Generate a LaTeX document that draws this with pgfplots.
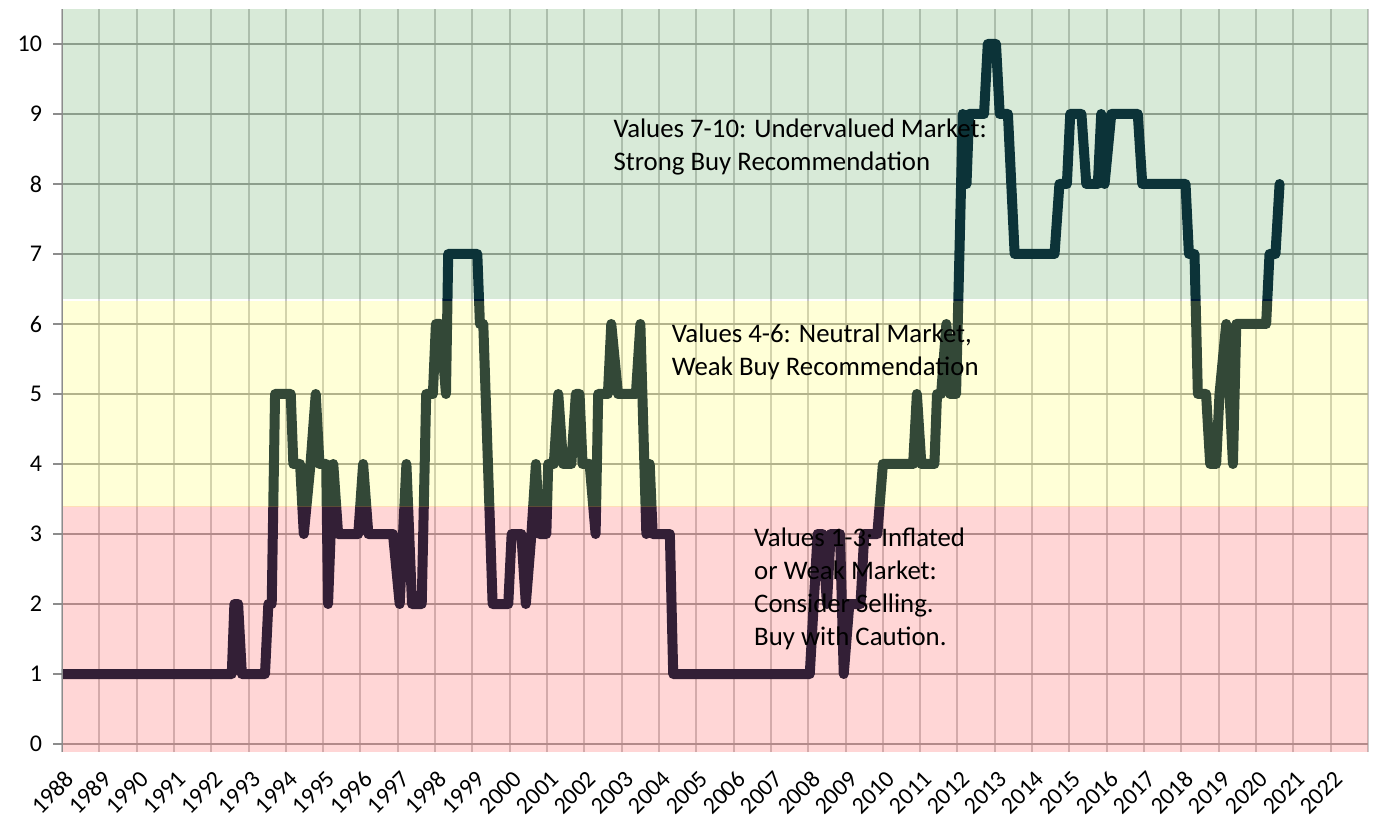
\documentclass[border=0pt]{standalone}
\usepackage{pgfplots}
\usepackage{pgfplotstable}
\pgfplotsset{compat=1.18}
\usepackage{fontspec}
\setmainfont{Carlito}
\definecolor{linecol}{RGB}{0,27,55}
\definecolor{bandred}{RGB}{255,50,50}
\definecolor{bandyel}{RGB}{255,255,55}
\definecolor{bandgrn}{RGB}{60,150,60}
\definecolor{hgrid}{RGB}{160,160,160}
\definecolor{vgrid}{RGB}{200,200,200}
\definecolor{axgray}{RGB}{140,140,140}

\pgfplotstableread{
year val
1988.00 1
1992.55 1
1992.62 2
1992.72 2
1992.82 1
1993.44 1
1993.53 2
1993.62 2
1993.71 5
1994.13 5
1994.20 4
1994.38 4
1994.48 3
1994.66 4
1994.80 5
1994.90 4
1995.08 4
1995.13 2
1995.27 4
1995.40 3
1995.94 3
1996.07 4
1996.21 3
1996.87 3
1997.05 2
1997.23 4
1997.38 2
1997.64 2
1997.76 5
1997.94 5
1998.02 6
1998.14 6
1998.29 5
1998.35 7
1999.13 7
1999.20 6
1999.29 6
1999.54 2
1999.96 2
2000.05 3
2000.31 3
2000.43 2
2000.58 3
2000.70 4
2000.80 3
2000.98 3
2001.03 4
2001.18 4
2001.30 5
2001.43 4
2001.65 4
2001.77 5
2001.87 5
2001.95 4
2002.14 4
2002.30 3
2002.37 5
2002.63 5
2002.72 6
2002.90 5
2003.38 5
2003.50 6
2003.66 3
2003.75 4
2003.83 3
2004.29 3
2004.38 1
2008.04 1
2008.25 3
2008.38 3
2008.50 2
2008.60 3
2008.85 3
2008.95 1
2009.10 2
2009.40 2
2009.50 3
2009.85 3
2010.00 4
2010.81 4
2010.91 5
2011.03 4
2011.38 4
2011.45 5
2011.56 5
2011.70 6
2011.80 5
2011.96 5
2012.14 9
2012.24 8
2012.31 9
2012.71 9
2012.81 10
2013.03 10
2013.13 9
2013.35 9
2013.53 7
2014.60 7
2014.73 8
2014.93 8
2015.02 9
2015.32 9
2015.45 8
2015.76 8
2015.85 9
2015.94 8
2016.12 9
2016.83 9
2016.95 8
2018.11 8
2018.20 7
2018.35 7
2018.44 5
2018.66 5
2018.77 4
2018.93 4
2019.02 5
2019.20 6
2019.38 4
2019.47 6
2020.27 6
2020.36 7
2020.52 7
2020.63 8
}\datatable

\begin{document}
\begin{tikzpicture}
\begin{axis}[name=ax, scale only axis, width=653pt, height=371.5pt,
  xmin=1988, xmax=2023, ymin=-0.1143, ymax=10.5,
  axis line style={draw=none},
  xtick={1988,...,2023},
  xticklabels={1988,1989,1990,1991,1992,1993,1994,1995,1996,1997,1998,1999,2000,2001,2002,2003,2004,2005,2006,2007,2008,2009,2010,2011,2012,2013,2014,2015,2016,2017,2018,2019,2020,2021,2022,{}},
  ytick={0,...,10},
  tick align=outside, ytick pos=left, xtick pos=bottom,
  major tick length=4.5pt,
  xtick style={draw=none},
  ytick style={draw=axgray, line width=1pt},
  xticklabel style={xshift=4pt, yshift=-7pt, rotate=45, anchor=east, inner sep=0pt, font=\fontsize{12}{14}\selectfont, text=black},
  yticklabel style={xshift=-2pt, font=\fontsize{12}{14}\selectfont, text=black},
  /pgf/number format/assume math mode=true,
  xmajorgrids, ymajorgrids,
  x grid style={vgrid, line width=1pt},
  y grid style={hgrid, line width=1.2pt},
  clip=true,
]
\addplot[linecol, line width=5pt, line join=round, line cap=round] table[x=year, y=val] {\datatable};
\fill[bandred, fill opacity=0.2] (axis cs:1988,-0.1143) rectangle (axis cs:2023,3.395);
\fill[bandyel, fill opacity=0.2] (axis cs:1988,3.385) rectangle (axis cs:2023,6.335);
\fill[bandgrn, fill opacity=0.2] (axis cs:1988,6.355) rectangle (axis cs:2023,10.5);
\draw[axgray, line width=1pt] (rel axis cs:0,0) -- (rel axis cs:0,1);
\node[anchor=north west, align=left, inner sep=0pt, font=\fontsize{13.4}{16.5}\selectfont] at (axis cs:2002.77,8.93) {Values 7-10: Undervalued Market:\\Strong Buy Recommendation};
\node[anchor=north west, align=left, inner sep=0pt, font=\fontsize{13.4}{16.5}\selectfont] at (axis cs:2004.33,6.01) {Values 4-6: Neutral Market,\\Weak Buy Recommendation};
\node[anchor=north west, align=left, inner sep=0pt, font=\fontsize{13.4}{16.5}\selectfont] at (axis cs:2006.54,3.09) {Values 1-3: Inflated\\or Weak Market:\\Consider Selling.\\Buy with Caution.};
\end{axis}
\pgfresetboundingbox
\path ([shift={(-31pt,-33pt)}]ax.south west) rectangle ([shift={(4.5pt,4.5pt)}]ax.north east);
\end{tikzpicture}
\end{document}
